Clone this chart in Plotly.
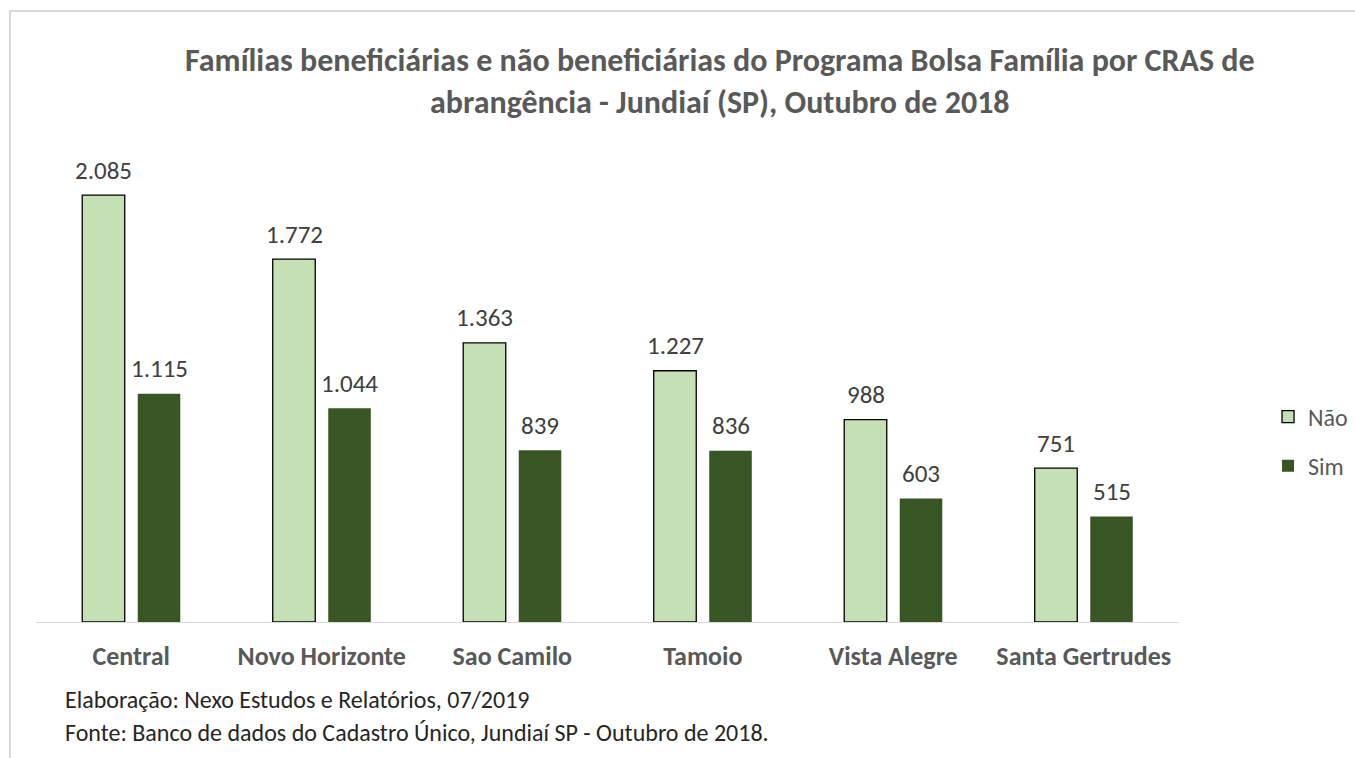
import plotly.graph_objects as go

categorias = ["Central", "Novo Horizonte", "Sao Camilo", "Tamoio", "Vista Alegre", "Santa Gertrudes"]
nao = [2085, 1772, 1363, 1227, 988, 751]
sim = [1115, 1044, 839, 836, 603, 515]

titulo = ("Famílias beneficiárias e não beneficiárias do Programa Bolsa Família por CRAS de"
          "<br>abrangência - Jundiaí (SP), Outubro de 2018")
rodape1 = "Elaboração: Nexo Estudos e Relatórios, 07/2019"
rodape2 = "Fonte: Banco de dados do Cadastro Único, Jundiaí SP - Outubro de 2018."

FONT = "Calibri, Carlito, Lato, sans-serif"
C_NAO = "#C5E0B4"
C_SIM = "#375623"

fig = go.Figure()
fig.add_trace(go.Bar(
    x=categorias, y=nao, name="Não", legendgroup="nao",
    marker=dict(color=C_NAO, line=dict(color="#000000", width=1.3)),
    hoverinfo="skip",
))
fig.add_trace(go.Bar(
    x=categorias, y=sim, name="Sim", legendgroup="sim",
    marker=dict(color=C_SIM, line=dict(color=C_SIM, width=0)),
    hoverinfo="skip",
))

annotations = []
for serie, shift in ((nao, -27.75), (sim, 27.75)):
    for c, v in zip(categorias, serie):
        annotations.append(dict(
            x=c, y=v, xref="x", yref="y", xshift=shift, yshift=25,
            text=f"{v:,}".replace(",", "."), showarrow=False,
            xanchor="center", yanchor="middle",
            font=dict(family=FONT, size=25, color="#404040"),
        ))

annotations.append(dict(
    x=0.598, y=1.1441, xref="paper", yref="paper", text=titulo,
    showarrow=False, xanchor="center", yanchor="middle", align="center",
    font=dict(family=FONT, size=32, color="#595959", weight="bold"),
))
annotations.append(dict(
    x=0.0236, y=-0.165, xref="paper", yref="paper", text=rodape1,
    showarrow=False, xanchor="left", yanchor="middle",
    font=dict(family=FONT, size=24, color="#262626"),
))
annotations.append(dict(
    x=0.0236, y=-0.235, xref="paper", yref="paper", text=rodape2,
    showarrow=False, xanchor="left", yanchor="middle",
    font=dict(family=FONT, size=24, color="#262626"),
))

fig.update_layout(
    width=1355, height=758,
    margin=dict(l=36, r=176, t=150, b=136, autoexpand=False),
    paper_bgcolor="white", plot_bgcolor="white",
    barmode="group", bargap=0.417, bargroupgap=0.234,
    showlegend=True,
    legend=dict(
        x=1.0779, y=0.3824, xanchor="left", yanchor="middle",
        font=dict(family=FONT, size=24, color="#595959"),
        tracegroupgap=15, traceorder="grouped", itemwidth=30,
        bgcolor="rgba(0,0,0,0)",
    ),
    annotations=annotations,
    shapes=[dict(
        type="rect", xref="paper", yref="paper",
        x0=-0.0228, x1=1.3, y0=-0.5, y1=1.2945,
        line=dict(color="#D9D9D9", width=2), fillcolor="rgba(0,0,0,0)", layer="below",
    )],
)
fig.update_xaxes(
    showline=True, linecolor="#D9D9D9", linewidth=1, ticks="",
    showgrid=False, zeroline=False, ticklabelstandoff=11,
    tickfont=dict(family=FONT, size=26, color="#595959", weight="bold"),
    fixedrange=True,
)
fig.update_yaxes(
    range=[0, 2305], visible=False, showgrid=False, zeroline=False, fixedrange=True,
)

fig.write_html("out.html", config={"displayModeBar": False},
               post_script="document.body.style.margin='0';")
